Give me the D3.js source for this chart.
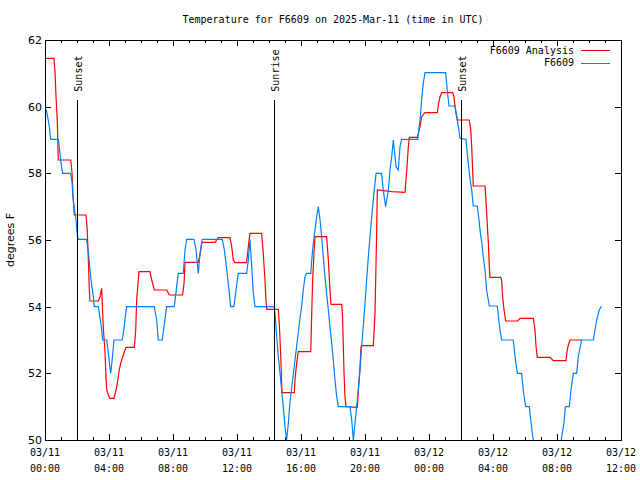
<!DOCTYPE html>
<html><head><meta charset="utf-8">
<script src="https://cdn.jsdelivr.net/npm/d3@7"></script>
<style>body{margin:0;background:#fff}svg{display:block}</style>
</head><body><svg id="c" width="640" height="480"></svg>
<script>
const title = "Temperature for F6609 on 2025-Mar-11 (time in UTC)";
const yLabel = "degrees F";
const seriesNames = ["F6609 Analysis", "F6609"];
const seriesColors = ["#ff0000", "#0080ff"];
const yTicks = [50, 52, 54, 56, 58, 60, 62];
const xTickHours = [0, 4, 8, 12, 16, 20, 24, 28, 32, 36];
const xTickDates = ["03/11", "03/11", "03/11", "03/11", "03/11", "03/11", "03/12", "03/12", "03/12", "03/12"];
const xTickTimes = ["00:00", "04:00", "08:00", "12:00", "16:00", "20:00", "00:00", "04:00", "08:00", "12:00"];
const minorTickHours = d3.range(0, 37, 1);
const eventNames = ["Sunset", "Sunrise", "Sunset"];
const eventHours = [2.06, 14.35, 26.06];

// F6609 Analysis (hours since 03/11 00:00 UTC, degrees F)
const analysisHours = [0,0.56,0.625,0.69,0.77,0.83,1.61,1.69,1.75,1.83,2.56,2.64,2.71,2.77,2.81,3.33,3.44,3.54,3.64,3.75,3.81,3.86,3.96,4.06,4.31,4.44,4.52,4.64,4.73,4.89,5.06,5.58,5.67,5.73,5.83,5.875,6.56,6.67,6.83,7.61,7.77,8.6,8.69,8.75,9.58,9.69,9.79,9.89,10.625,10.73,10.83,11.56,11.67,11.77,11.875,12.6,12.71,12.81,13.54,13.64,13.75,13.81,13.86,14.58,14.64,14.69,14.75,14.81,15.58,15.64,15.73,15.83,16.61,16.67,16.73,16.81,16.875,17.6,17.71,17.81,17.875,18.54,18.6,18.64,18.69,18.75,18.81,19.52,19.6,19.69,19.75,19.81,20.52,20.625,20.69,20.73,20.77,21.67,22.5,22.61,22.71,22.77,23.27,23.44,23.54,23.75,24.52,24.6,24.69,24.79,25.48,25.56,25.625,25.73,25.77,26.52,26.61,26.67,26.71,26.77,27.5,27.56,27.64,27.71,27.77,27.81,28.48,28.54,28.6,28.69,28.79,29.54,29.69,30.52,30.625,30.69,30.77,31.56,31.77,32.56,32.64,32.71,32.81,33.54];
const analysisTemps = [61.45,61.45,61.05,60.3,59.55,58.4,58.4,58.01,57.35,56.75,56.75,56.3,55.4,54.5,54.17,54.17,54.3,54.55,53.4,52.65,51.9,51.5,51.35,51.25,51.25,51.5,51.7,52.1,52.3,52.55,52.78,52.78,53.3,54.2,54.8,55.05,55.05,54.8,54.5,54.5,54.35,54.35,54.7,55.33,55.33,55.55,55.9,55.93,55.93,56.0,56.07,56.07,55.8,55.4,55.32,55.32,55.8,56.2,56.2,55.6,54.8,54.2,53.92,53.92,53.5,53.0,52.3,51.42,51.42,51.9,52.3,52.65,52.65,53.8,54.8,55.6,56.1,56.1,55.4,54.5,54.07,54.07,53.7,52.9,52.0,51.3,51.0,50.98,51.6,52.2,52.8,52.83,52.83,53.8,55.3,56.3,57.5,57.45,57.43,58.1,58.8,59.08,59.08,59.4,59.7,59.82,59.82,60.1,60.3,60.42,60.42,60.3,60.0,59.7,59.6,59.6,59.3,58.8,58.3,57.62,57.62,57.2,56.5,55.9,55.2,54.88,54.88,54.8,54.3,53.9,53.57,53.57,53.65,53.65,53.3,52.8,52.48,52.48,52.38,52.38,52.7,52.85,53.0,53.0];

// F6609 observations
const obsHours = [0,0.1,0.2,0.27,0.36,0.83,0.89,0.98,1.04,1.1,1.6,1.69,1.73,1.79,1.875,1.94,2.02,2.08,2.6,2.71,2.81,2.92,3.02,3.08,3.33,3.44,3.54,3.6,3.86,3.96,4.06,4.11,4.21,4.31,4.83,4.94,5.02,5.1,6.83,6.98,7.08,7.33,7.44,7.6,8.08,8.23,8.33,8.64,8.75,8.85,9.31,9.44,9.58,9.69,9.83,11.08,11.21,11.36,11.5,11.6,11.81,11.94,12.08,12.6,12.71,12.81,12.92,13.02,13.125,14.31,14.375,14.48,14.58,14.69,14.79,14.89,15.0,15.1,15.21,15.31,15.42,15.52,15.625,15.73,15.83,15.94,16.04,16.14,16.25,16.36,16.61,16.67,16.77,16.875,16.98,17.08,17.19,17.29,17.39,17.5,17.6,17.71,17.81,17.92,18.02,18.125,18.23,18.33,19.06,19.17,19.27,19.375,19.48,19.58,19.69,19.79,19.89,20.0,20.1,20.21,20.31,20.42,20.52,20.56,20.69,21.04,21.14,21.29,21.46,21.56,21.67,21.77,21.94,22.08,22.19,22.29,23.29,23.44,23.54,23.64,23.75,25.04,25.14,25.25,25.625,25.73,25.83,25.94,26.31,26.39,26.48,26.56,26.67,26.77,27.02,27.125,27.21,27.31,27.39,27.5,27.6,27.77,28.27,28.36,28.44,28.54,29.27,29.375,29.52,29.79,29.89,30.04,30.27,30.36,30.48,30.75,31.0,32.0,32.2,32.29,32.44,32.52,32.77,32.875,33.02,33.23,33.33,33.54,34.27,34.375,34.48,34.64,34.79];
const obsTemps = [59.96,59.87,59.6,59.39,59.02,59.02,58.8,58.38,58.19,58.0,58.0,57.75,57.38,57.11,56.81,56.6,56.15,56.02,56.02,55.65,55.1,54.65,54.3,54.0,54.0,53.66,53.3,53.0,53.0,52.61,52.16,52.0,52.46,53.0,53.0,53.36,53.7,54.0,54.0,53.6,53.0,53.0,53.4,54.0,54.0,54.6,55.0,55.0,55.7,56.02,56.02,55.7,55.0,55.61,56.02,56.02,55.7,55.1,54.5,54.0,54.0,54.5,55.0,55.0,55.4,56.02,55.2,54.41,54.0,54.0,53.81,53.1,52.5,52.01,51.5,51.0,50.4,50.0,50.51,51.14,51.56,51.98,52.4,52.82,53.21,53.66,54.0,54.5,54.9,55.0,55.0,55.4,55.9,56.3,56.7,57.0,56.6,56.1,55.5,54.9,54.4,53.9,53.4,52.9,52.4,51.8,51.3,51.0,51.0,50.6,50.0,50.51,51.0,51.5,52.1,52.8,53.4,54.1,54.8,55.5,56.1,56.7,57.2,57.41,58.0,58.0,57.5,57.0,57.5,58.1,58.5,59.0,58.2,58.1,58.8,59.02,59.02,59.6,60.2,60.7,61.02,61.02,60.5,60.02,60.02,59.7,59.4,59.05,59.02,58.6,58.2,57.85,57.5,57.02,57.02,56.6,56.2,55.9,55.5,55.1,54.5,54.02,54.02,53.6,53.3,53.0,53.0,52.5,52.0,52.0,51.5,51.0,51.0,50.6,50.1,49.4,49.0,49.0,49.7,50.1,50.51,51.0,51.0,51.5,52.0,52.0,52.5,53.0,53.0,53.3,53.6,53.9,54.02];

const W = 640, H = 480;
const L = 45, R = 621, T = 40, B = 440;
const mono = "'DejaVu Sans Mono', monospace";
const sans = "'DejaVu Sans', sans-serif";

const svg = d3.select("#c");
svg.append("rect").attr("width", W).attr("height", H).attr("fill", "#fff");

const x = d3.scaleLinear().domain([0, 36]).range([L, R]);
const y = d3.scaleLinear().domain([50, 62]).range([B, T]);

svg.append("defs").append("clipPath").attr("id", "plot")
  .append("rect").attr("x", L).attr("y", T).attr("width", R - L).attr("height", B - T);

const crisp = g => g.attr("shape-rendering", "crispEdges");
function styleAxis(g) {
  g.select(".domain").remove();
  g.selectAll("line").attr("stroke", "#000");
  g.selectAll("text").remove();
}
svg.append("g").attr("transform", `translate(0,${B})`)
  .call(d3.axisBottom(x).tickValues(minorTickHours).tickSize(-3)).call(styleAxis).call(crisp);
svg.append("g").attr("transform", `translate(0,${B})`)
  .call(d3.axisBottom(x).tickValues(xTickHours).tickSize(-6)).call(styleAxis).call(crisp);
svg.append("g").attr("transform", `translate(0,${T})`)
  .call(d3.axisTop(x).tickValues(minorTickHours).tickSize(-3)).call(styleAxis).call(crisp);
svg.append("g").attr("transform", `translate(0,${T})`)
  .call(d3.axisTop(x).tickValues(xTickHours).tickSize(-6)).call(styleAxis).call(crisp);
svg.append("g").attr("transform", `translate(${L},0)`)
  .call(d3.axisLeft(y).tickValues(yTicks).tickSize(-6)).call(styleAxis).call(crisp);
svg.append("g").attr("transform", `translate(${R},0)`)
  .call(d3.axisRight(y).tickValues(yTicks).tickSize(-6)).call(styleAxis).call(crisp);

svg.append("g").selectAll("text").data(yTicks).join("text")
  .attr("x", L - 3).attr("y", d => y(d)).attr("dy", "0.36em")
  .attr("text-anchor", "end").attr("font-family", sans).attr("font-size", 11)
  .text(d => d);

const xl = svg.append("g").selectAll("text").data(xTickHours).join("text")
  .attr("x", d => x(d)).attr("text-anchor", "middle")
  .attr("font-family", mono).attr("font-size", 10);
xl.append("tspan").attr("x", d => x(d)).attr("y", 456).text((d, i) => xTickDates[i]);
xl.append("tspan").attr("x", d => x(d)).attr("y", 472).text((d, i) => xTickTimes[i]);

svg.append("text").attr("x", (L + R) / 2).attr("y", 23).attr("text-anchor", "middle")
  .attr("font-family", mono).attr("font-size", 10).text(title);
svg.append("text").attr("transform", `translate(14,${(T + B) / 2}) rotate(-90)`)
  .attr("text-anchor", "middle").attr("font-family", sans).attr("font-size", 11).text(yLabel);

const plot = svg.append("g").attr("clip-path", "url(#plot)");
const line = d3.line().x(d => x(d[0])).y(d => y(d[1]));
const analysis = analysisHours.map((h, i) => [h, analysisTemps[i]]);
const obs = obsHours.map((h, i) => [h, obsTemps[i]]);
plot.append("path").datum(analysis).attr("d", line)
  .attr("fill", "none").attr("stroke", seriesColors[0]).attr("stroke-width", 1.2);
plot.append("path").datum(obs).attr("d", line)
  .attr("fill", "none").attr("stroke", seriesColors[1]).attr("stroke-width", 1.2);

const ev = svg.append("g");
ev.selectAll("line").data(eventHours).join("line")
  .attr("x1", d => x(d)).attr("x2", d => x(d))
  .attr("y1", y(60.2)).attr("y2", B)
  .attr("stroke", "#000").attr("stroke-width", 1).attr("shape-rendering", "crispEdges");
ev.selectAll("text").data(eventHours).join("text")
  .attr("transform", d => `translate(${x(d) + 4},${y(60.45)}) rotate(-90)`)
  .attr("font-family", mono).attr("font-size", 10)
  .text((d, i) => eventNames[i]);

const lg = svg.append("g");
seriesNames.forEach((n, i) => {
  const yy = 50 + i * 12.5;
  lg.append("text").attr("x", 574).attr("y", yy).attr("dy", "0.35em")
    .attr("text-anchor", "end").attr("font-family", mono).attr("font-size", 10).text(n);
  lg.append("line").attr("x1", 581).attr("x2", 610).attr("y1", Math.round(yy) + 0.5).attr("y2", Math.round(yy) + 0.5)
    .attr("stroke", seriesColors[i]).attr("stroke-width", 1).attr("shape-rendering", "crispEdges");
});

svg.append("rect").attr("x", L).attr("y", T).attr("width", R - L).attr("height", B - T)
  .attr("fill", "none").attr("stroke", "#000").attr("shape-rendering", "crispEdges");
</script></body></html>
